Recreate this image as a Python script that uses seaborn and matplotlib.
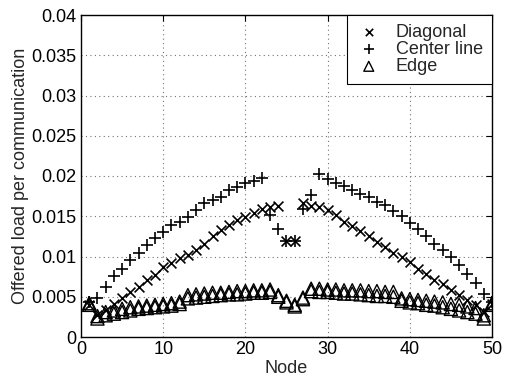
import numpy as np
import pandas as pd
import matplotlib
matplotlib.use("Agg")
import matplotlib.pyplot as plt
import seaborn as sns
from matplotlib.ticker import FuncFormatter

# ---------------- data ----------------
nodes = list(range(1, 51))

diagonal = [0.0040, 0.0027, 0.0034, 0.0041, 0.0048, 0.0056, 0.0062, 0.0071, 0.0077, 0.0087,
            0.0092, 0.0098, 0.0102, 0.0108, 0.0116, 0.0125, 0.0133, 0.0139, 0.0145, 0.0149,
            0.0154, 0.0159, 0.0162, 0.0163, 0.0119, 0.0119, 0.0166, 0.0163, 0.0161, 0.0158,
            0.0152, 0.0143, 0.0138, 0.0132, 0.0125, 0.0118, 0.0112, 0.0104, 0.0100, 0.0093,
            0.0085, 0.0078, 0.0071, 0.0066, 0.0058, 0.0052, 0.0046, 0.0040, 0.0031, 0.0041]

center_line = [0.0043, 0.0048, 0.0062, 0.0076, 0.0085, 0.0096, 0.0104, 0.0114, 0.0123, 0.0131,
               0.0139, 0.0143, 0.0149, 0.0158, 0.0166, 0.0170, 0.0174, 0.0183, 0.0186, 0.0191,
               0.0194, 0.0197, 0.0152, 0.0134, 0.0119, 0.0119, 0.0159, 0.0176, 0.0202, 0.0196,
               0.0191, 0.0187, 0.0183, 0.0178, 0.0174, 0.0168, 0.0164, 0.0157, 0.0150, 0.0142,
               0.0134, 0.0125, 0.0116, 0.0108, 0.0100, 0.0090, 0.0078, 0.0067, 0.0053, 0.0044]

edge_upper = [0.0042, 0.0026, 0.0031, 0.0033, 0.0035, 0.0037, 0.0038, 0.0039, 0.0040, 0.0041,
              0.0042, 0.0044, 0.0052, 0.0053, 0.0054, 0.0055, 0.0055, 0.0056, 0.0057, 0.0057,
              0.0058, 0.0058, 0.0059, 0.0052, 0.0045, 0.0040, 0.0049, 0.0060, 0.0060, 0.0059,
              0.0059, 0.0058, 0.0058, 0.0058, 0.0057, 0.0057, 0.0056, 0.0056, 0.0048, 0.0047,
              0.0046, 0.0045, 0.0044, 0.0043, 0.0041, 0.0040, 0.0038, 0.0036, 0.0027, 0.0042]

edge_lower = [0.0040, 0.0023, 0.0027, 0.0029, 0.0031, 0.0033, 0.0035, 0.0036, 0.0037, 0.0038,
              0.0039, 0.0041, 0.0048, 0.0049, 0.0050, 0.0051, 0.0052, 0.0053, 0.0053, 0.0054,
              0.0055, 0.0055, 0.0056, 0.0050, 0.0043, 0.0038, 0.0047, 0.0057, 0.0056, 0.0056,
              0.0055, 0.0054, 0.0054, 0.0053, 0.0052, 0.0051, 0.0051, 0.0050, 0.0045, 0.0043,
              0.0042, 0.0040, 0.0039, 0.0037, 0.0035, 0.0033, 0.0031, 0.0029, 0.0023, 0.0040]

x_ticks = [0, 10, 20, 30, 40, 50]
y_ticks = [0, 0.005, 0.01, 0.015, 0.02, 0.025, 0.03, 0.035, 0.04]

# ---------------- style ----------------
sns.set_style("white")
plt.rcParams['font.family'] = ['Liberation Sans', 'DejaVu Sans']
plt.rcParams['font.size'] = 13

fig = plt.figure(figsize=(5.06, 3.84), dpi=100)
ax = fig.add_axes([81 / 506, 1 - 337 / 384, (492 - 81) / 506, (337 - 15) / 384])

df_diag = pd.DataFrame({"Node": nodes, "Load": diagonal})
df_cent = pd.DataFrame({"Node": nodes, "Load": center_line})
df_edge_u = pd.DataFrame({"Node": nodes, "Load": edge_upper})
df_edge_l = pd.DataFrame({"Node": nodes, "Load": edge_lower})

sns.scatterplot(data=df_edge_l, x="Node", y="Load", ax=ax, marker="^", s=90,
                facecolors="none", edgecolor="black", linewidth=1.0, zorder=3)
sns.scatterplot(data=df_diag, x="Node", y="Load", ax=ax, marker="x", s=50,
                color="black", linewidth=1.2, label="Diagonal", zorder=4)
sns.scatterplot(data=df_cent, x="Node", y="Load", ax=ax, marker="+", s=75,
                color="black", linewidth=1.2, label="Center line", zorder=4)
sns.scatterplot(data=df_edge_u, x="Node", y="Load", ax=ax, marker="^", s=90,
                facecolors="none", edgecolor="black", linewidth=1.0, label="Edge", zorder=3)

ax.set_xlim(0, 50)
ax.set_ylim(0, 0.04)
ax.set_xticks(x_ticks)
ax.set_yticks(y_ticks)
ax.yaxis.set_major_formatter(FuncFormatter(lambda v, p: f"{v:g}"))
ax.set_xlabel("Node", fontsize=13, labelpad=1)
ax.set_ylabel("Offered load per communication", fontsize=13, labelpad=2)

ax.grid(True, linestyle=(0, (1, 3)), color="0.45", linewidth=0.8)
ax.set_axisbelow(True)
ax.tick_params(direction="in", top=True, right=True, length=4, width=0.8,
               labelsize=13, pad=3, colors="black")
for sp in ax.spines.values():
    sp.set_visible(True)
    sp.set_color("black")
    sp.set_linewidth(1.0)

leg = ax.legend(loc="upper right", borderaxespad=0, frameon=True, fancybox=False,
                framealpha=1, edgecolor="black", fontsize=13, handletextpad=0.8,
                labelspacing=0.0, borderpad=0.5, handlelength=1.4, markerscale=0.75)
leg.get_frame().set_linewidth(0.8)

fig.savefig("out.png", dpi=100)
